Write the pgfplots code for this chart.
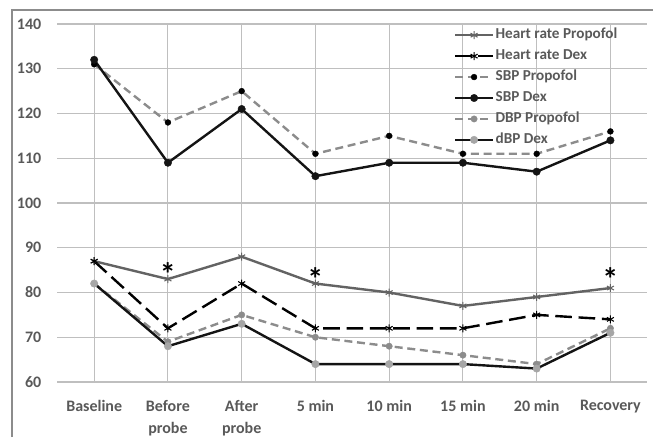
\documentclass[border=0pt]{standalone}
\usepackage{fontspec}
\setmainfont{Carlito}
\usepackage{pgfplots}
\pgfplotsset{compat=1.18}
\definecolor{txt}{HTML}{595959}
\definecolor{grid}{HTML}{D9D9D9}
\definecolor{hrp}{HTML}{636363}
\definecolor{gdash}{HTML}{8C8C8C}
\definecolor{blk}{HTML}{141414}
\definecolor{lgray}{HTML}{A6A6A6}
\definecolor{frame}{HTML}{8C8C8C}
\begin{document}
\begin{tikzpicture}
\begin{axis}[
  name=ax,
  at={(0,0)}, anchor=south west,
  scale only axis,
  width=442.5pt, height=268.5pt,
  xmin=-0.5, xmax=7.5, ymin=60, ymax=140,
  xtick={0,1,2,3,4,5,6,7},
  xticklabels={Baseline,{Before\\probe},{After\\probe},5 min,10 min,15 min,20 min,Recovery},
  ytick={60,70,80,90,100,110,120,130,140},
  axis line style={draw=none},
  major tick length=0pt,
  ymajorgrids, grid style={grid, line width=0.8pt},
  /pgf/number format/assume math mode=true,
  tick label style={font=\bfseries\fontsize{12}{17}\selectfont, text=txt},
  xticklabel style={align=center, yshift=-10pt},
  yticklabel style={xshift=-8.5pt},
  legend style={draw=none, fill=none, at={(0.665,1.0)}, anchor=north west,
    font=\bfseries\fontsize{11.4}{13}\selectfont, text=txt,
    nodes={inner sep=1pt, text height=8pt, text depth=2.4pt},
    row sep=3.3pt, /tikz/every even column/.append style={column sep=0pt}},
  legend cell align=left,
  legend image code/.code={\draw[mark repeat=2,mark phase=2,#1] plot coordinates {(0cm,0cm) (0.5cm,0cm) (1cm,0cm)};},
]
\addplot[color=hrp, line width=1.8pt, mark=asterisk, mark size=3pt, mark options={solid, line width=0.8pt}]
  coordinates {(0,87) (1,83) (2,88) (3,82) (4,80) (5,77) (6,79) (7,81)};
\addlegendentry{Heart rate Propofol}
\addplot[color=black, line width=1.8pt, dash pattern=on 12.5pt off 5pt, mark=asterisk, mark size=3pt, mark options={solid, line width=0.8pt}]
  coordinates {(0,87) (1,72) (2,82) (3,72) (4,72) (5,72) (6,75) (7,74)};
\addlegendentry{Heart rate Dex}
\addplot[color=gdash, line width=1.8pt, dash pattern=on 6pt off 3.5pt, mark=*, mark size=2.2pt, mark options={solid, line width=0.3pt, draw=black, fill=black}]
  coordinates {(0,131) (1,118) (2,125) (3,111) (4,115) (5,111) (6,111) (7,116)};
\addlegendentry{SBP Propofol}
\addplot[color=blk, line width=1.8pt, mark=*, mark size=2.8pt, mark options={solid, line width=0.3pt, draw=blk, fill=blk}]
  coordinates {(0,132) (1,109) (2,121) (3,106) (4,109) (5,109) (6,107) (7,114)};
\addlegendentry{SBP Dex}
\addplot[color=gdash, line width=1.8pt, dash pattern=on 6pt off 3.5pt, mark=*, mark size=2.4pt, mark options={solid, line width=0.3pt, draw=gdash, fill=gdash}]
  coordinates {(0,82) (1,69) (2,75) (3,70) (4,68) (5,66) (6,64) (7,72)};
\addlegendentry{DBP Propofol}
\addplot[color=blk, line width=1.8pt, mark=*, mark size=2.8pt, mark options={solid, line width=0.3pt, draw=lgray, fill=lgray}]
  coordinates {(0,82) (1,68) (2,73) (3,64) (4,64) (5,64) (6,63) (7,71)};
\addlegendentry{dBP Dex}
\node[font=\bfseries\fontsize{24}{24}\selectfont, text=black, inner sep=0pt, anchor=base] at (axis cs:1,81.6) {*};
\node[font=\bfseries\fontsize{24}{24}\selectfont, text=black, inner sep=0pt, anchor=base] at (axis cs:3,80.5) {*};
\node[font=\bfseries\fontsize{24}{24}\selectfont, text=black, inner sep=0pt, anchor=base] at (axis cs:7,80.5) {*};
\end{axis}
\pgfresetboundingbox
\useasboundingbox (ax.south west) ++(-42.98pt,-41.25pt) rectangle ++(489.75pt,327.75pt);
\draw[frame, line width=1.2pt] ([shift={(-33.98pt,-41.25pt)}]ax.south west) -- ++(0,320.25pt) -- ++(481pt,0);
\end{tikzpicture}
\end{document}
